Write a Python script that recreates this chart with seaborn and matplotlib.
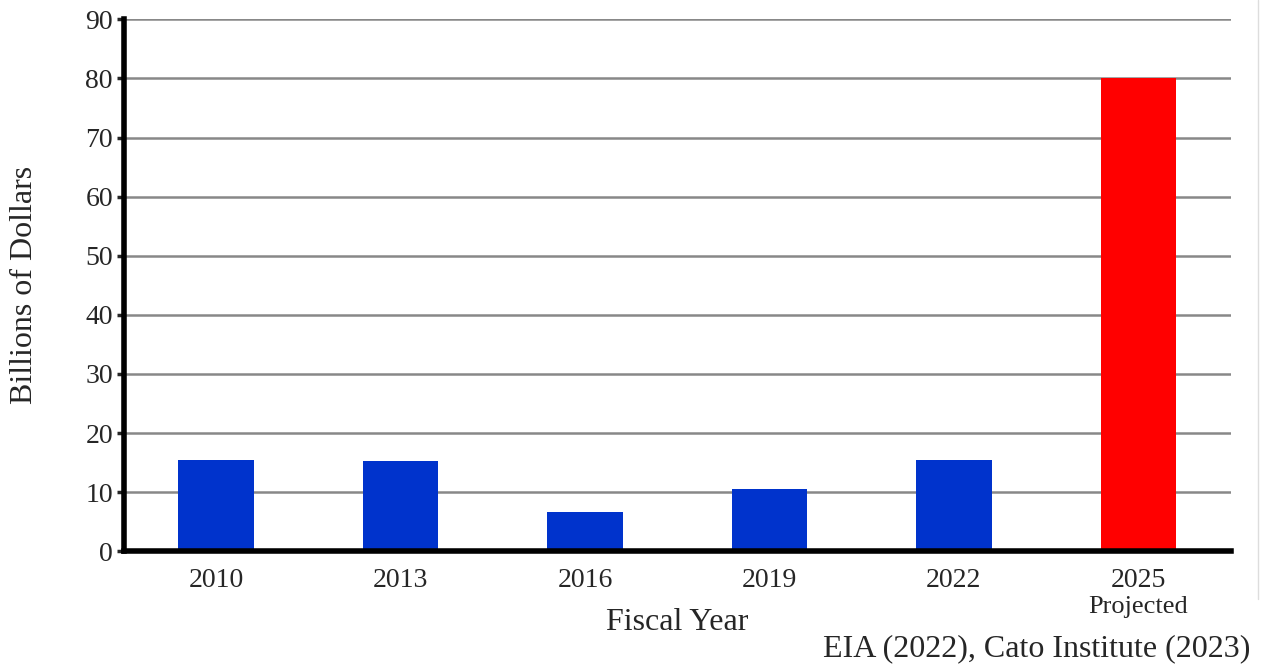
import pandas as pd
import seaborn as sns
import matplotlib.pyplot as plt
from matplotlib.lines import Line2D

years = ["2010", "2013", "2016", "2019", "2022", "2025"]
billions = [15.5, 15.3, 6.7, 10.6, 15.5, 80.0]
status = ["Actual", "Actual", "Actual", "Actual", "Actual", "Projected"]
palette = {"Actual": "#0033cc", "Projected": "#ff0000"}
yticks = list(range(0, 91, 10))

df = pd.DataFrame({"year": years, "value": billions, "status": status})

sns.set_style("white")
plt.rcParams["font.family"] = ["Liberation Serif", "DejaVu Serif"]

fig = plt.figure(figsize=(12.66, 6.65), dpi=100)
ax = fig.add_axes([0.098, 0.171, 0.874, 0.8])

for y in yticks[1:]:
    ax.axhline(y, color="#888888", lw=1.8, zorder=0)

sns.barplot(data=df, x="year", y="value", hue="status", palette=palette,
            width=0.41, dodge=False, legend=False, saturation=1,
            linewidth=0, ax=ax, zorder=2)

ax.set_xlim(-0.5, 5.5)
ax.set_ylim(0, 90)
ax.set_yticks(yticks)
ax.tick_params(axis="y", labelsize=20, length=5, width=2.5, direction="out", pad=3, left=True)
ax.tick_params(axis="x", labelsize=20, length=0, pad=12)

for s in ["top", "right"]:
    ax.spines[s].set_visible(False)
ax.spines["left"].set_linewidth(4)
ax.spines["bottom"].set_linewidth(4)
ax.spines["left"].set_color("black")
ax.spines["bottom"].set_color("black")

ax.set_xlabel("Fiscal Year", fontsize=23, labelpad=11)
ax.set_ylabel("Billions of Dollars", fontsize=23, labelpad=33)

ax.text(5, -9.4, "Projected", ha="center", va="center", fontsize=19)
fig.text(0.988, 0.025, "EIA (2022), Cato Institute (2023)", ha="right", va="center", fontsize=23)

fig.add_artist(Line2D([0.994, 0.994], [0.1, 1.0], color="#dddddd", lw=1))

fig.savefig("out.png", dpi=100)
